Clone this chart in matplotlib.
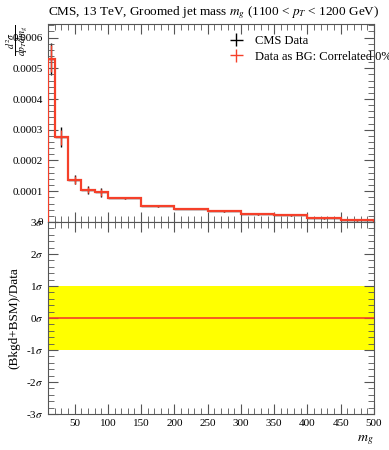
import numpy as np
import matplotlib
matplotlib.use("Agg")
import matplotlib.pyplot as plt
from matplotlib.ticker import MultipleLocator, FuncFormatter

plt.rcParams['font.family'] = ['Liberation Serif', 'DejaVu Serif']
plt.rcParams['mathtext.fontset'] = 'stix'

# bin edges in m_g
edges = [10, 20, 40, 60, 80, 100, 150, 200, 250, 300, 350, 400, 450, 500]
# measured cross section per bin
values = [0.000531, 0.000276, 0.000137, 0.000104, 0.000096, 0.0000788,
          0.0000515, 0.0000437, 0.0000361, 0.0000263, 0.0000240, 0.0000131, 0.0000075]
data_err = [0.000052, 0.000033, 0.000015, 0.000013, 0.000014, 0.000004,
            0.0000035, 0.000003, 0.000003, 0.000003, 0.000003, 0.000003, 0.000003]
bg_err = [0.000044, 0.000024, 0.000013, 0.000011, 0.000012, 0.0000035,
          0.000003, 0.000003, 0.000003, 0.000003, 0.000003, 0.000003, 0.000003]
sig_levels = [-3, -2, -1, 0, 1, 2, 3]

edges = np.array(edges)
centers = 0.5 * (edges[1:] + edges[:-1])
halfw = 0.5 * np.diff(edges)
values = np.array(values)

red = '#f5402a'

fig = plt.figure(figsize=(3.89, 4.5), dpi=100)
ax = fig.add_axes([0.1234, 0.5067, 0.838, 0.44])
ax2 = fig.add_axes([0.1234, 0.08, 0.838, 0.4267])

h1 = ax.errorbar(centers, values, yerr=data_err, xerr=halfw, fmt='none',
                 ecolor='black', elinewidth=1.0, zorder=1)
ax.stairs(values, edges, color=red, lw=1.6, zorder=3)
ax.errorbar(centers, values, yerr=bg_err, fmt='none', ecolor=red,
            elinewidth=1.0, zorder=3)
h2 = ax.errorbar([], [], yerr=[], xerr=[], fmt='none', ecolor=red, elinewidth=1.0)

leg = ax.legend([h1, h2], ['CMS Data', 'Data as BG: Correlated 0%'],
                loc='upper left', bbox_to_anchor=(0.52, 0.97), frameon=False,
                fontsize=9, handlelength=2.2, handletextpad=0.4,
                labelspacing=0.3, borderaxespad=0)

ax.set_xlim(10, 500)
ax.set_ylim(0, 0.000644)
ax.xaxis.set_major_locator(MultipleLocator(50))
ax.xaxis.set_minor_locator(MultipleLocator(10))
ax.yaxis.set_major_locator(MultipleLocator(0.0001))
ax.yaxis.set_minor_locator(MultipleLocator(0.00002))
ax.yaxis.set_major_formatter(FuncFormatter(lambda v, p: '0' if abs(v) < 1e-12 else '%.4f' % v))
ax.tick_params(labelbottom=False)

ax.set_title(r'CMS, 13 TeV, Groomed jet mass $m_g$ (1100 < $p_T$ < 1200 GeV)',
             loc='left', fontsize=9.5, pad=6, x=0.0)
ax.text(-0.095, 1.0, r'$\frac{d^2\sigma}{dp_T dm_g}$', transform=ax.transAxes,
        rotation=90, ha='center', va='top', fontsize=10)

# lower panel
ax2.axhspan(-1, 1, color='#ffff00', lw=0)
ax2.plot([10, 500], [0, 0], color=red, lw=1.2)
ax2.set_xlim(10, 500)
ax2.set_ylim(-3, 3)
ax2.set_yticks(sig_levels)
ax2.set_yticklabels([r'%d$\sigma$' % s for s in sig_levels])
ax2.xaxis.set_major_locator(MultipleLocator(50))
ax2.xaxis.set_minor_locator(MultipleLocator(10))
ax2.yaxis.set_minor_locator(MultipleLocator(0.2))
ax2.set_ylabel('(Bkgd+BSM)/Data', fontsize=9.5, labelpad=4)
ax2.set_xlabel(r'$m_g$', fontsize=10, loc='right')

for a in (ax, ax2):
    a.tick_params(which='both', direction='in', top=True, right=True,
                  labelsize=8, color='#555555')
    a.tick_params(which='major', length=7)
    a.tick_params(which='minor', length=4)
    for s in a.spines.values():
        s.set_color('#555555')
        s.set_linewidth(0.8)

fig.savefig('out.png', dpi=100)
